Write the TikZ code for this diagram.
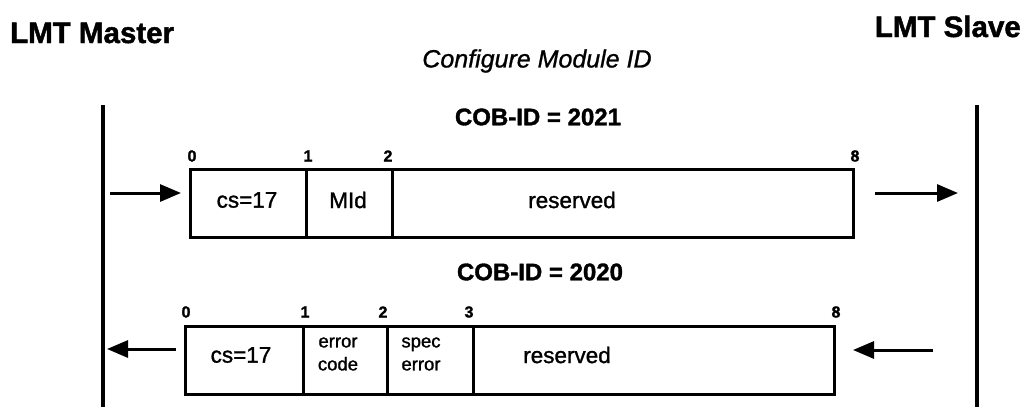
\documentclass[tikz,border=0pt]{standalone}
\usepackage{fontspec}
\setmainfont{Liberation Sans}
% heavier rendering of the sans face for labels
\newfontfamily\heavy[FakeBold=1.3,BoldFeatures={FakeBold=1.5},ItalicFeatures={FakeBold=1}]{Liberation Sans}
\usetikzlibrary{arrows.meta}
\tikzset{
  cell/.style={draw, line width=3.2pt, rectangle, inner sep=0pt, anchor=north west, minimum height=68pt},
  lifeline/.style={line width=3.4pt},
  msg/.style={line width=3pt, -{Triangle[length=21pt,width=17pt]}},
  actor/.style={font=\fontsize{29.5}{33}\heavy\bfseries},
  idx/.style={font=\fontsize{16}{18}\heavy\bfseries, inner sep=0pt},
  cob/.style={font=\fontsize{24}{28}\heavy\bfseries, inner sep=0pt},
  field/.style={font=\fontsize{22.5}{26}\heavy, inner sep=0pt},
  small/.style={font=\fontsize{18.5}{23}\heavy, align=center, inner sep=0pt}
}
\begin{document}
\begin{tikzpicture}[x=1pt,y=-1pt]
\useasboundingbox (0,0) rectangle (1025,407);

% participants
\node[actor, anchor=base west, inner sep=0pt] (master) at (10,43) {LMT Master};
\node[actor, anchor=base east, inner sep=0pt] (slave) at (1021,37) {LMT Slave};
\node[font=\fontsize{25}{29}\heavy\itshape, inner sep=0pt] (title) at (537,61) {Configure Module ID};

% lifelines
\coordinate (mTop) at (103,105);
\coordinate (mBot) at (103,407);
\coordinate (sTop) at (977,105);
\coordinate (sBot) at (977,407);
\draw[lifeline] (mTop) -- (mBot);
\draw[lifeline] (sTop) -- (sBot);

% request frame, COB-ID 2021
\node[cob] (cobA) at (538,117) {COB-ID = 2021};
\node[cell, minimum width=116pt] (a0) at (189,168) {};
\node[cell, minimum width=86pt]  (a1) at (305,168) {};
\node[cell, minimum width=461pt] (a2) at (391,168) {};
\node[field] at (247,200) {cs=17};
\node[field] at (348,200) {MId};
\node[field] at (572,200) {reserved};
\node[idx] at (192,156) {0};
\node[idx] at (308,156) {1};
\node[idx] at (388,156) {2};
\node[idx] at (855,156) {8};

\coordinate (aTailL) at (110,193);
\coordinate (aTipL) at (181,193);
\coordinate (aTailR) at (875,193);
\coordinate (aTipR) at (958,193);
\draw[msg] (aTailL) -- (aTipL);
\draw[msg] (aTailR) -- (aTipR);

% response frame, COB-ID 2020
\node[cob] (cobB) at (540,272) {COB-ID = 2020};
\node[cell, minimum width=118pt] (b0) at (184,325) {};
\node[cell, minimum width=84pt]  (b1) at (302,325) {};
\node[cell, minimum width=86pt]  (b2) at (386,325) {};
\node[cell, minimum width=361pt] (b3) at (472,325) {};
\node[field] at (241,355) {cs=17};
\node[small] at (338,354) {error\\code};
\node[small] at (421,354) {spec\\error};
\node[field] at (567,355) {reserved};
\node[idx] at (186,312) {0};
\node[idx] at (305,312) {1};
\node[idx] at (383,312) {2};
\node[idx] at (469,312) {3};
\node[idx] at (836,312) {8};

\coordinate (bTailR) at (933,350);
\coordinate (bTipR) at (853,350);
\coordinate (bTailL) at (176,349);
\coordinate (bTipL) at (107,349);
\draw[msg] (bTailR) -- (bTipR);
\draw[msg] (bTailL) -- (bTipL);
\end{tikzpicture}
\end{document}
